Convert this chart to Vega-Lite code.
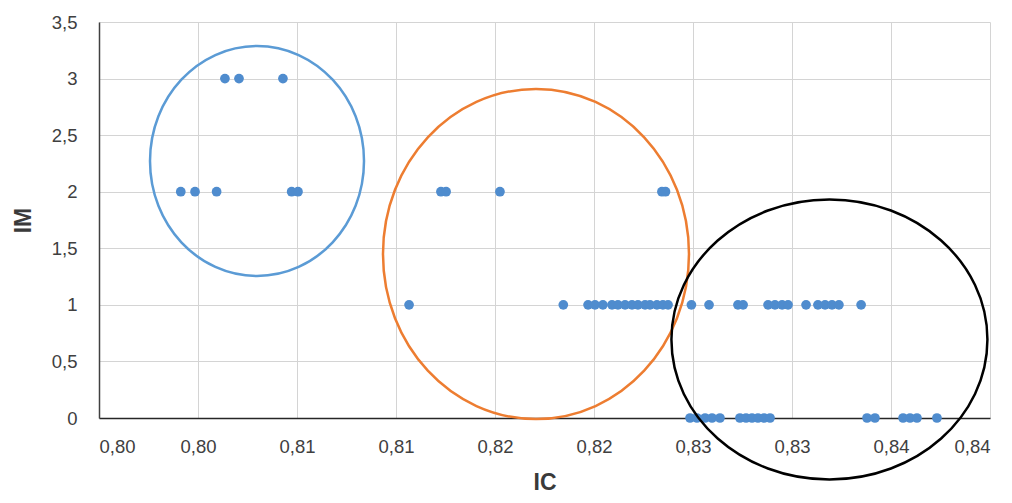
{
  "$schema": "https://vega.github.io/schema/vega-lite/v6.json",
  "autosize": {"type": "none"},
  "width": 891,
  "height": 396,
  "padding": {"left": 99, "top": 22, "right": 22, "bottom": 85},
  "background": "white",
  "config": {
    "view": {"stroke": null},
    "font": "Liberation Sans",
    "axis": {
      "labelFont": "Liberation Sans",
      "labelFontSize": 18.5,
      "labelColor": "#404040",
      "titleFont": "Liberation Sans",
      "titleFontSize": 23,
      "titleFontWeight": "bold",
      "titleColor": "#3a3a3a",
      "gridColor": "#d4d4d4",
      "gridWidth": 1,
      "ticks": false,
      "domainWidth": 1.5
    }
  },
  "layer": [
    {
      "data": {
        "values": [
          {"IC": 0.80386, "IM": 3}, {"IC": 0.80457, "IM": 3}, {"IC": 0.80679, "IM": 3},
          {"IC": 0.80163, "IM": 2}, {"IC": 0.80235, "IM": 2}, {"IC": 0.80344, "IM": 2},
          {"IC": 0.80723, "IM": 2}, {"IC": 0.80755, "IM": 2},
          {"IC": 0.81477, "IM": 2}, {"IC": 0.81503, "IM": 2}, {"IC": 0.81775, "IM": 2},
          {"IC": 0.82593, "IM": 2}, {"IC": 0.82611, "IM": 2},
          {"IC": 0.81316, "IM": 1}, {"IC": 0.82095, "IM": 1}, {"IC": 0.8222, "IM": 1},
          {"IC": 0.82255, "IM": 1}, {"IC": 0.82295, "IM": 1}, {"IC": 0.82341, "IM": 1},
          {"IC": 0.82371, "IM": 1}, {"IC": 0.82407, "IM": 1}, {"IC": 0.82442, "IM": 1},
          {"IC": 0.82472, "IM": 1}, {"IC": 0.82508, "IM": 1}, {"IC": 0.82533, "IM": 1},
          {"IC": 0.82568, "IM": 1}, {"IC": 0.82598, "IM": 1}, {"IC": 0.82624, "IM": 1},
          {"IC": 0.82742, "IM": 1}, {"IC": 0.82831, "IM": 1}, {"IC": 0.82977, "IM": 1},
          {"IC": 0.83003, "IM": 1}, {"IC": 0.83129, "IM": 1}, {"IC": 0.83164, "IM": 1},
          {"IC": 0.832, "IM": 1}, {"IC": 0.8323, "IM": 1}, {"IC": 0.83321, "IM": 1},
          {"IC": 0.83381, "IM": 1}, {"IC": 0.83417, "IM": 1}, {"IC": 0.83452, "IM": 1},
          {"IC": 0.83487, "IM": 1}, {"IC": 0.83599, "IM": 1},
          {"IC": 0.82735, "IM": 0}, {"IC": 0.8277, "IM": 0}, {"IC": 0.82811, "IM": 0},
          {"IC": 0.82846, "IM": 0}, {"IC": 0.82886, "IM": 0}, {"IC": 0.82987, "IM": 0},
          {"IC": 0.83018, "IM": 0}, {"IC": 0.83048, "IM": 0}, {"IC": 0.83078, "IM": 0},
          {"IC": 0.83109, "IM": 0}, {"IC": 0.83139, "IM": 0}, {"IC": 0.83629, "IM": 0},
          {"IC": 0.83669, "IM": 0}, {"IC": 0.83811, "IM": 0}, {"IC": 0.83846, "IM": 0},
          {"IC": 0.83881, "IM": 0}, {"IC": 0.83982, "IM": 0}
        ]
      },
      "mark": {"type": "circle", "size": 95, "opacity": 1, "color": "#4f8cce"},
      "encoding": {
        "x": {
          "field": "IC",
          "type": "quantitative",
          "title": "IC",
          "scale": {"domain": [0.7975, 0.8425], "zero": false, "nice": false},
          "axis": {
            "values": [0.7975, 0.8025, 0.8075, 0.8125, 0.8175, 0.8225, 0.8275, 0.8325, 0.8375, 0.8425],
            "format": ".2f",
            "labelExpr": "replace(datum.label, '.', ',')",
            "labelPadding": 19,
            "titlePadding": 16,
            "domainColor": "#262626"
          }
        },
        "y": {
          "field": "IM",
          "type": "quantitative",
          "title": "IM",
          "scale": {"domain": [0, 3.5], "nice": false},
          "axis": {
            "values": [0, 0.5, 1, 1.5, 2, 2.5, 3, 3.5],
            "labelExpr": "replace(toString(datum.value), '.', ',')",
            "labelPadding": 22,
            "titlePadding": 16,
            "domainColor": "#404040"
          }
        }
      }
    },
    {
      "data": {"values": [{"IC": 0.80548, "IM": 2.2715}]},
      "mark": {
        "type": "point",
        "filled": false,
        "size": 4,
        "shape": "M -107 0 A 107 115 0 1 0 107 0 A 107 115 0 1 0 -107 0 Z",
        "stroke": "#5b9bd5",
        "strokeWidth": 2.5,
        "opacity": 1
      },
      "encoding": {
        "x": {"field": "IC", "type": "quantitative"},
        "y": {"field": "IM", "type": "quantitative"}
      }
    },
    {
      "data": {"values": [{"IC": 0.81957, "IM": 1.4495}]},
      "mark": {
        "type": "point",
        "filled": false,
        "size": 4,
        "shape": "M -153 0 A 153 165 0 1 0 153 0 A 153 165 0 1 0 -153 0 Z",
        "stroke": "#ed7d31",
        "strokeWidth": 2.5,
        "opacity": 1
      },
      "encoding": {
        "x": {"field": "IC", "type": "quantitative"},
        "y": {"field": "IM", "type": "quantitative"}
      }
    },
    {
      "data": {"values": [{"IC": 0.83439, "IM": 0.6938}]},
      "mark": {
        "type": "point",
        "filled": false,
        "size": 4,
        "shape": "M -158 0 A 158 140 0 1 0 158 0 A 158 140 0 1 0 -158 0 Z",
        "stroke": "#000000",
        "strokeWidth": 2.5,
        "opacity": 1
      },
      "encoding": {
        "x": {"field": "IC", "type": "quantitative"},
        "y": {"field": "IM", "type": "quantitative"}
      }
    }
  ]
}
